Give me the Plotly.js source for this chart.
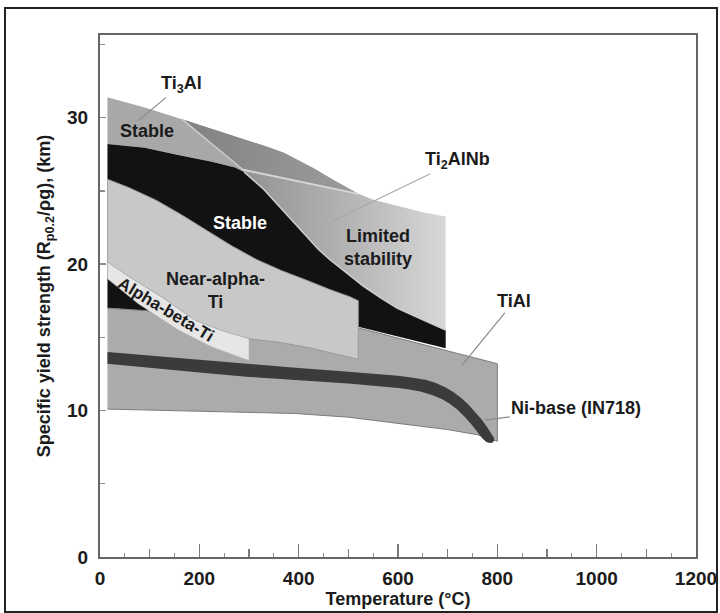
<!DOCTYPE html>
<html>
<head>
<meta charset="utf-8">
<script src="https://cdn.plot.ly/plotly-3.0.1.min.js"></script>
<style>
  html, body { margin: 0; padding: 0; background: #fff; }
  #wrap { position: relative; width: 720px; height: 613px; overflow: hidden; }
  #chart { position: absolute; left: 0; top: 0; width: 720px; height: 613px; }
  #frame { position: absolute; left: 4px; top: 7px; width: 710px; height: 602px; border: 2px solid #222; pointer-events: none; }
</style>
</head>
<body>
<div id="wrap"><div id="chart"></div><div id="frame"></div></div>
<script>
// ---- Data (temperature in °C, specific yield strength in km) ----
const tempMajorTicks = [0, 200, 400, 600, 800, 1000, 1200];
const tempMajorLabels = ['0', '200', '400', '600', '800', '1000', '1200'];
const tempMidTicks = [100, 300, 500, 700, 900, 1100];
const strengthTicks = [0, 10, 20, 30];

// Upper edge of the Ti3Al band (continues as upper edge of the limited-stability zone)
const bandTopX = [15, 90, 165, 258, 300, 338, 370, 400, 430, 470, 500, 520, 550, 600, 650, 696];
const bandTopY = [31.4, 30.7, 29.9, 28.9, 28.45, 28.0, 27.6, 27.1, 26.55, 25.75, 25.15, 24.8, 24.4, 23.95, 23.55, 23.25];
// Ti3Al stable / limited boundary
const ti3alSplitX = [165, 288];
const ti3alSplitY = [29.9, 26.45];
// Ti3Al limited / Ti2AlNb limited boundary
const phaseSplitX = [288, 400, 520];
const phaseSplitY = [26.45, 25.65, 24.8];
// Ti2AlNb stable (black) band
const ti2alnbTopX = [15, 90, 158, 225, 272, 290, 330, 362, 390, 416, 440, 463, 500, 530, 565, 598, 650, 696];
const ti2alnbTopY = [28.2, 27.95, 27.45, 27.0, 26.6, 26.3, 25.1, 23.9, 22.85, 21.85, 21.0, 20.3, 19.3, 18.5, 17.7, 17.0, 16.2, 15.5];
const ti2alnbBotX = [696, 520, 15];
const ti2alnbBotY = [14.25, 15.72, 17.0];
// TiAl band
const tialTopX = [15, 300, 520, 696, 800];
const tialTopY = [17.0, 16.35, 15.65, 14.1, 13.2];
const tialBotX = [15, 200, 393, 500, 600, 700, 760, 800];
const tialBotY = [10.1, 9.95, 9.8, 9.55, 9.1, 8.7, 8.35, 7.9];
// Near-alpha Ti
const nearAlphaTopX = [15, 60, 114, 165, 215, 265, 316, 366, 416, 460, 504, 520];
const nearAlphaTopY = [25.8, 25.2, 24.35, 23.35, 22.3, 21.25, 20.3, 19.55, 18.9, 18.3, 17.76, 17.5];
const nearAlphaBotX = [520, 420, 363, 300];
const nearAlphaBotY = [13.5, 14.3, 14.65, 14.9];
// Alpha-beta Ti
const alphaBetaTopX = [15, 60, 124, 191, 245, 300];
const alphaBetaTopY = [20.14, 19.1, 17.76, 16.17, 15.45, 14.9];
const alphaBetaBotX = [15, 77, 158, 225, 300];
const alphaBetaBotY = [19.0, 17.3, 15.5, 14.35, 13.42];
// Ni-base (IN718): upper edge, rounded tip, lower edge
const niTopX = [15, 100, 200, 300, 400, 500, 560, 600, 630, 655, 675, 695, 712, 728, 742, 756, 768, 779, 788, 793];
const niTopY = [14.0, 13.75, 13.45, 13.15, 12.9, 12.65, 12.5, 12.38, 12.25, 12.1, 11.9, 11.6, 11.25, 10.85, 10.4, 9.9, 9.4, 8.9, 8.45, 8.15];
const niTipX = [794, 790, 784, 778];
const niTipY = [7.95, 7.8, 7.78, 7.85];
const niBotX = [770, 760, 748, 735, 720, 705, 690, 670, 645, 620, 600, 500, 400, 300, 200, 100, 15];
const niBotY = [8.1, 8.55, 9.05, 9.55, 10.05, 10.45, 10.75, 11.05, 11.3, 11.45, 11.55, 11.85, 12.05, 12.3, 12.6, 12.9, 13.2];

// ---- helpers ----
const rev = a => a.slice().reverse();
function poly(xs, ys, fill, extra) {
  return Object.assign({
    type: 'scatter', mode: 'lines', x: xs, y: ys, fill: 'toself',
    fillcolor: fill, line: { width: 0, color: fill }, hoverinfo: 'skip', showlegend: false
  }, extra || {});
}
function line(xs, ys, color, width) {
  return { type: 'scatter', mode: 'lines', x: xs, y: ys, line: { color: color, width: width },
    hoverinfo: 'skip', showlegend: false };
}

const iCorner = ti2alnbTopX.indexOf(290);
const iB165 = bandTopX.indexOf(165);
const iSplitEnd = bandTopX.indexOf(520);
// Limited-stability zone (Ti2AlNb), behind everything
const limX = bandTopX.slice(iB165).concat([bandTopX[bandTopX.length - 1]], rev(ti2alnbTopX.slice(iCorner)));
const limY = bandTopY.slice(iB165).concat([ti2alnbTopY[ti2alnbTopY.length - 1]], rev(ti2alnbTopY.slice(iCorner)));
// Ti3Al limited
const t3lX = bandTopX.slice(iB165, iSplitEnd + 1).concat(rev(phaseSplitX), [ti3alSplitX[0]]);
const t3lY = bandTopY.slice(iB165, iSplitEnd + 1).concat(rev(phaseSplitY), [ti3alSplitY[0]]);
// Ti3Al stable
const t3sX = bandTopX.slice(0, iB165 + 1).concat([ti3alSplitX[1]], rev(ti2alnbTopX.slice(0, iCorner + 1)));
const t3sY = bandTopY.slice(0, iB165 + 1).concat([ti3alSplitY[1]], rev(ti2alnbTopY.slice(0, iCorner + 1)));
// Ti2AlNb black
const blkX = ti2alnbTopX.concat(ti2alnbBotX);
const blkY = ti2alnbTopY.concat(ti2alnbBotY);
// TiAl
const tialX = tialTopX.concat(rev(tialBotX));
const tialY = tialTopY.concat(rev(tialBotY));
// Near alpha
const naX = nearAlphaTopX.concat(nearAlphaBotX, rev(alphaBetaTopX).slice(1));
const naY = nearAlphaTopY.concat(nearAlphaBotY, rev(alphaBetaTopY).slice(1));
// Alpha beta
const abX = alphaBetaTopX.concat(rev(alphaBetaBotX));
const abY = alphaBetaTopY.concat(rev(alphaBetaBotY));
// Ni
const niX = niTopX.concat(niTipX, niBotX);
const niY = niTopY.concat(niTipY, niBotY);

const traces = [
  poly(limX, limY, '#b0b0b0', { fillgradient: { type: 'horizontal', start: 290, stop: 696,
    colorscale: [[0, '#939393'], [0.55, '#b6b6b6'], [1, '#d8d8d8']] } }),
  poly(t3lX, t3lY, '#8c8c8c', { fillgradient: { type: 'horizontal', start: 165, stop: 520,
    colorscale: [[0, '#828282'], [1, '#9c9c9c']] } }),
  poly(t3sX, t3sY, '#a8a8a8'),
  poly(blkX, blkY, '#121212'),
  line(ti2alnbTopX.slice(iCorner), ti2alnbTopY.slice(iCorner), '#cfcfcf', 1.5),
  line(ti3alSplitX, ti3alSplitY, '#cdcdcd', 1.5),
  line(phaseSplitX, phaseSplitY, '#d6d6d6', 2),
  poly(tialX, tialY, '#ababab', { line: { width: 1, color: '#7c7c7c' } }),
  poly(naX, naY, '#c8c8c8', { line: { width: 1, color: '#9a9a9a' } }),
  poly(abX, abY, '#e6e6e6', { line: { width: 0.5, color: '#b0b0b0' } }),
  poly(niX, niY, '#3b3b3b'),
  { type: 'scatter', x: [], y: [], xaxis: 'x2', yaxis: 'y', showlegend: false, hoverinfo: 'skip' }
];

const F = 'Liberation Sans, Arial, Helvetica, sans-serif';
const lbl = (x, y, text, opts) => Object.assign({
  x: x, y: y, text: text, showarrow: false, xref: 'x', yref: 'y',
  font: { family: F, size: 18, color: '#1b1b1b', weight: 'bold' }
}, opts || {});
const lead = (tipX, tipY, tx, ty, text, color) => ({
  x: tipX, y: tipY, ax: tx, ay: ty, axref: 'x', ayref: 'y', xref: 'x', yref: 'y',
  text: text, showarrow: true, arrowhead: 0, arrowwidth: 1.2, arrowcolor: color, standoff: 0,
  font: { family: F, size: 18, color: '#1b1b1b', weight: 'bold' }
});

const layout = {
  width: 720, height: 613,
  margin: { l: 100, r: 24, t: 35, b: 56 },
  paper_bgcolor: '#fff', plot_bgcolor: '#fff',
  showlegend: false,
  font: { family: F, size: 18, color: '#1b1b1b' },
  xaxis: {
    range: [0, 1200], tickvals: tempMajorTicks, ticktext: tempMajorLabels,
    ticks: 'inside', ticklen: 13, tickwidth: 1.5, tickcolor: '#7a7a7a',
    minor: { dtick: 50, ticks: 'inside', ticklen: 4, tickwidth: 1.2, tickcolor: '#8a8a8a' },
    showline: true, linecolor: '#666', linewidth: 2, mirror: true,
    showgrid: false, zeroline: false, ticklabelstandoff: 3,
    tickfont: { family: F, size: 19, color: '#1b1b1b', weight: 'bold' },
    title: { text: 'Temperature (°C)', standoff: 2, font: { family: F, size: 18, color: '#1b1b1b', weight: 'bold' } }
  },
  xaxis2: {
    overlaying: 'x', anchor: 'y', side: 'bottom', range: [0, 1200],
    tickvals: tempMidTicks, showticklabels: false,
    ticks: 'inside', ticklen: 8, tickwidth: 1.5, tickcolor: '#7a7a7a',
    showline: false, showgrid: false, zeroline: false
  },
  yaxis: {
    range: [0, 35.65], tickvals: strengthTicks,
    ticks: 'inside', ticklen: 6, tickwidth: 1.5, tickcolor: '#8a8a8a',
    minor: { dtick: 5, ticks: 'inside', ticklen: 5, tickwidth: 1.2, tickcolor: '#8a8a8a' },
    showline: true, linecolor: '#666', linewidth: 2, mirror: true,
    showgrid: false, zeroline: false, ticklabelstandoff: 6,
    tickfont: { family: F, size: 19, color: '#1b1b1b', weight: 'bold' },
    title: { text: 'Specific yield strength (R<sub>p0.2</sub>/ρg), (km)', standoff: 12,
      font: { family: F, size: 18, color: '#1b1b1b', weight: 'bold' } }
  },
  annotations: [
    lead(77, 29.8, 164, 32.26, 'Ti<sub>3</sub>Al', '#8a8a8a'),
    lead(423, 22.2, 719, 27.06, 'Ti<sub>2</sub>AlNb', '#a8a8a8'),
    lead(729, 13.1, 834, 17.46, 'TiAl', '#8a8a8a'),
    lead(776, 9.35, 959, 10.18, 'Ni-base (IN718)', '#8a8a8a'),
    lbl(94, 29.1, 'Stable'),
    lbl(281, 22.8, 'Stable', { font: { family: F, size: 18, color: '#ffffff', weight: 'bold' } }),
    lbl(560, 21.15, 'Limited<br>stability'),
    lbl(233, 18.17, 'Near-alpha-<br>Ti'),
    lbl(132, 16.93, 'Alpha-beta-Ti', { textangle: 31, font: { family: F, size: 17, color: '#1b1b1b', weight: 'bold' } })
  ]
};

Plotly.newPlot('chart', traces, layout, { staticPlot: true, displayModeBar: false });
</script>
</body>
</html>
